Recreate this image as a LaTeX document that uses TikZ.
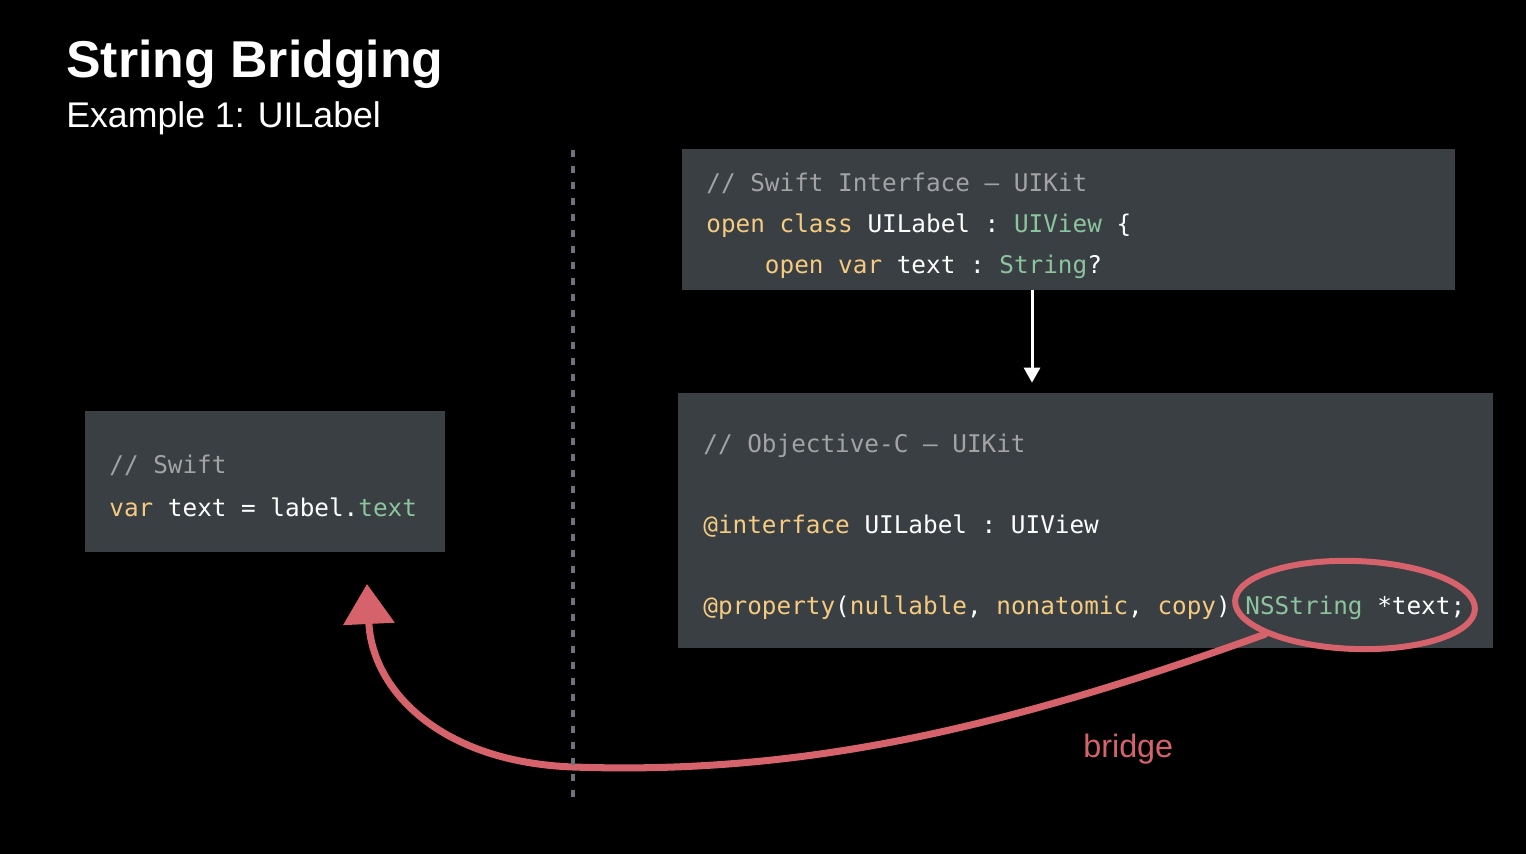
\documentclass[tikz,border=0pt]{standalone}
\usepackage{fontspec}
\setmainfont{Liberation Sans}
\setmonofont{DejaVu Sans Mono}
\usepackage{xcolor}
\usepackage{tikz}
\usetikzlibrary{positioning, shapes.geometric, arrows.meta}
\definecolor{slideBg}{HTML}{000000}
\definecolor{codeBox}{HTML}{3A3F44}
\definecolor{cmtG}{HTML}{A3A3A3}
\definecolor{kwY}{HTML}{F5CB7F}
\definecolor{typeG}{HTML}{8CC49E}
\definecolor{bridgeR}{HTML}{D6636B}
\definecolor{divG}{HTML}{6B737B}
\newcommand\kw[1]{\textcolor{kwY}{#1}}
\newcommand\ty[1]{\textcolor{typeG}{#1}}
\newcommand\cmt[1]{\textcolor{cmtG}{#1}}

\begin{document}
\begin{tikzpicture}[x=0.02cm, y=-0.02cm,
   codebox/.style={fill=codeBox, inner sep=0pt},
   code/.style={anchor=base west, inner sep=0pt, text=white,
                font=\fontsize{13.85}{16}\selectfont\ttfamily},
   flow/.style={white, line width=1.7pt, -{Triangle[width=0.32cm, length=0.3cm]}},
   bridgeline/.style={bridgeR, line width=4pt, line cap=round,
                      -{Triangle[width=1cm, length=0.8cm]}},
   divider/.style={divG, line width=2.3pt, dash pattern=on 4pt off 5.1pt}]
  \useasboundingbox (0,0) rectangle (1526,854);
  \fill[slideBg] (0,0) rectangle (1526,854);
  % heading
  \node[anchor=base west, inner sep=0pt, text=white,
        font=\fontsize{29.5}{32}\selectfont\bfseries] (title) at (66,78) {String Bridging};
  \node[anchor=base west, inner sep=0pt, text=white,
        font=\fontsize{20.3}{24}\selectfont] (subtitle) at (66,128) {Example 1: UILabel};
  % code boxes
  \node[codebox, minimum width=15.46cm, minimum height=2.82cm] (ifcbox) at (1068.5,219.5) {};
  \node[codebox, minimum width=16.3cm, minimum height=5.1cm] (objcbox) at (1085.5,520.5) {};
  \node[codebox, minimum width=7.2cm, minimum height=2.82cm] (swiftbox) at (265,481.5) {};
  % swift interface
  \foreach \txt [count=\i] in {%
    {\cmt{// Swift Interface – UIKit}},%
    {\kw{open} \kw{class} UILabel : \ty{UIView} \{},%
    {\hphantom{0000}\kw{open} \kw{var} text : \ty{String}?}}{%
      \node[code] (ifc\i) at (706,151+41*\i) {\txt};
  }
  % objective-c header
  \foreach \txt [count=\i] in {%
    {\cmt{// Objective-C – UIKit}},%
    {\kw{@interface} UILabel : UIView},%
    {\kw{@property}(\kw{nullable}, \kw{nonatomic}, \kw{copy}) \ty{NSString} *text;}}{%
      \node[code] (objc\i) at (703,372+81*\i) {\txt};
  }
  % swift use site
  \foreach \txt [count=\i] in {%
    {\cmt{// Swift}},%
    {\kw{var} text = label.\ty{text}}}{%
      \node[code] (swl\i) at (109,431+43*\i) {\txt};
  }
  % interface -> header
  \coordinate (drop) at (1032,0);
  \draw[flow, shorten >=0.2cm] (ifcbox.south -| drop) -- (objcbox.north -| drop);
  % bridge
  \node[draw=bridgeR, line width=3.4pt, ellipse, inner sep=0pt, rotate=-2,
        minimum width=4.8cm, minimum height=1.76cm] (ell) at (1355,605) {};
  \coordinate (tip) at (367,584);
  \draw[bridgeline] (ell.200) .. controls (1000,730) and (800,775) .. (573,767)
                    .. controls (440,762) and (372,690) .. (tip);
  \node[anchor=base west, inner sep=0pt, text=bridgeR,
        font=\fontsize{18.4}{22}\selectfont] (bridgelbl) at (1083,758) {bridge};
  % divider
  \draw[divider] (573,150) -- (573,805);
\end{tikzpicture}
\end{document}
